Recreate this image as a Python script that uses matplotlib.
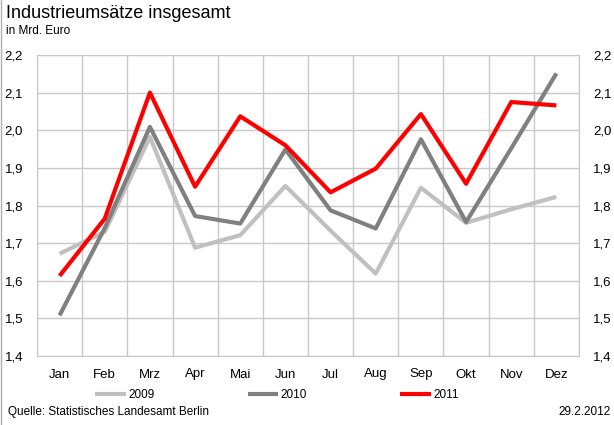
import numpy as np
import matplotlib.pyplot as plt
from matplotlib.ticker import FuncFormatter, FixedLocator

months = ['Jan', 'Feb', 'Mrz', 'Apr', 'Mai', 'Jun', 'Jul', 'Aug', 'Sep', 'Okt', 'Nov', 'Dez']
v2009 = [1.672, 1.73, 1.982, 1.688, 1.721, 1.852, 1.733, 1.619, 1.847, 1.754, 1.79, 1.823]
v2010 = [1.508, 1.74, 2.009, 1.772, 1.752, 1.949, 1.787, 1.739, 1.976, 1.756, 1.952, 2.151]
v2011 = [1.613, 1.765, 2.10, 1.85, 2.037, 1.96, 1.835, 1.898, 2.043, 1.858, 2.075, 2.066]

plt.rcParams['font.family'] = ['Liberation Sans', 'DejaVu Sans']

fig = plt.figure(figsize=(6.14, 4.25), dpi=100)
ax = fig.add_axes([37 / 614, 1 - 356 / 425, 542 / 614, 301 / 425])

x = np.arange(len(months))
ax.plot(x, v2009, color='#c0c0c0', lw=3.0, label='2009', solid_capstyle='butt')
ax.plot(x, v2010, color='#808080', lw=3.0, label='2010', solid_capstyle='butt')
ax.plot(x, v2011, color='#ff0000', lw=3.0, label='2011', solid_capstyle='butt')

ax.set_xlim(-0.5, 11.5)
ax.set_ylim(1.4, 2.2)
ax.set_yticks(np.arange(1.4, 2.21, 0.1))
ax.yaxis.set_major_formatter(FuncFormatter(lambda v, p: f'{v:.1f}'.replace('.', ',')))
ax.set_xticks(x)
ax.set_xticklabels(months)
ax.xaxis.set_minor_locator(FixedLocator(np.arange(-0.5, 12, 1)))
ax.grid(True, which='minor', axis='x', color='#c8c8c8', lw=1)
ax.grid(True, which='major', axis='y', color='#c8c8c8', lw=1)
ax.set_axisbelow(True)
for s in ax.spines.values():
    s.set_color('#c8c8c8')
ax.tick_params(which='both', length=0, labelsize=9.5, colors='#000000')
ax.tick_params(axis='x', pad=9)
ax.tick_params(axis='y', pad=10)
ax.tick_params(axis='y', labelright=True, right=False)

leg = fig.legend(loc='center', bbox_to_anchor=(0.451, 1 - 395 / 425), ncol=3, frameon=False,
                 fontsize=8.5, handlelength=2.6, handletextpad=0.2, columnspacing=7.9)

fig.text(6 / 614, 1 - 14 / 425, 'Industrieumsätze insgesamt', fontsize=13, va='center', ha='left')
fig.text(6 / 614, 1 - 31 / 425, 'in Mrd. Euro', fontsize=8.5, va='center', ha='left')
fig.text(8 / 614, 1 - 412 / 425, 'Quelle: Statistisches Landesamt Berlin', fontsize=8.5, va='center', ha='left')
fig.text(611 / 614, 1 - 412 / 425, '29.2.2012', fontsize=8.5, va='center', ha='right')

fig.add_artist(plt.Line2D([0.5 / 614, 0.5 / 614], [0, 1], transform=fig.transFigure, color='#b0b0b0', lw=1))

fig.savefig('out.png', dpi=100)
